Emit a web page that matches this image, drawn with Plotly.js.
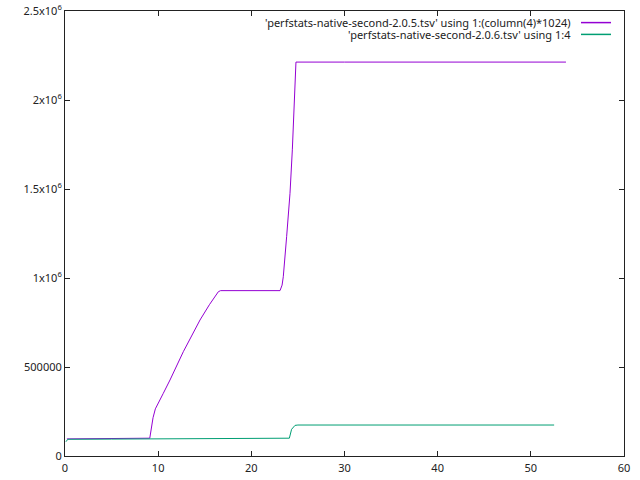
<!DOCTYPE html>
<html>
<head>
<meta charset="utf-8">
<script src="https://cdn.plot.ly/plotly-3.0.1.min.js"></script>
<style>html,body{margin:0;padding:0;background:#fff;}#chart{width:640px;height:480px;}</style>
</head>
<body>
<div id="chart"></div>
<script>
const seriesNames = [
  "'perfstats-native-second-2.0.5.tsv' using 1:(column(4)*1024)",
  "'perfstats-native-second-2.0.6.tsv' using 1:4"
];
const seriesColors = ["#9400d3", "#009e73"];

const x205 = [0.2, 2, 4, 6, 8, 9.1, 9.45, 9.7, 10.55, 11.27, 12.7, 13.6, 14.49, 15.5, 16.46, 16.7, 20, 23.08, 23.3, 23.43, 23.79, 24.15, 24.4, 24.58, 24.79, 30, 40, 50, 53.77];
const y205 = [96000, 97000, 97500, 98000, 99000, 100000, 215000, 265000, 352000, 427000, 586000, 678000, 764000, 850000, 923000, 929000, 929000, 929000, 960000, 1007000, 1232000, 1476000, 1720000, 2000000, 2213000, 2213000, 2213000, 2213000, 2213000];

const x206 = [0.1, 0.3, 5, 10, 15, 20, 24.08, 24.32, 24.69, 25, 30, 40, 52.5];
const y206 = [80000, 94000, 95000, 96000, 97500, 99000, 100000, 150000, 172000, 174000, 174000, 174000, 174000];

const xTickVals = [0, 10, 20, 30, 40, 50, 60];
const yTickVals = [0, 500000, 1000000, 1500000, 2000000, 2500000];
const yTickText = ["0", "500000", "1x10<sup>6</sup>", "1.5x10<sup>6</sup>", "2x10<sup>6</sup>", "2.5x10<sup>6</sup>"];

const fontFam = "Noto Sans, Liberation Sans, sans-serif";

const traces = [
  {x: x205, y: y205, mode: "lines", name: seriesNames[0], line: {color: seriesColors[0], width: 1}},
  {x: x206, y: y206, mode: "lines", name: seriesNames[1], line: {color: seriesColors[1], width: 1}}
];

const axisCommon = {
  showgrid: false, zeroline: false, showline: true, linecolor: "#222", linewidth: 1,
  mirror: "ticks", ticks: "inside", ticklen: 5, tickcolor: "#222", tickwidth: 1,
  tickfont: {family: fontFam, size: 11, color: "#222"}
};

const legendRowY = [11.6, 23.4]; // px below top of plot area
const annotations = seriesNames.map((n, i) => ({
  xref: "paper", yref: "paper", x: (572 - 65) / 559, y: 1 - legendRowY[i] / 445, xanchor: "right", yanchor: "middle",
  text: n, showarrow: false, borderpad: 0, font: {family: fontFam, size: 11, color: "#222"}
}));
const shapes = seriesColors.map((c, i) => ({
  type: "line", xref: "paper", yref: "paper", x0: (581 - 65) / 559, x1: (611 - 65) / 559,
  y0: 1 - legendRowY[i] / 445, y1: 1 - legendRowY[i] / 445, line: {color: c, width: 1.5}
}));

const layout = {
  width: 640, height: 480,
  margin: {l: 65, r: 16, t: 11, b: 24, pad: 0},
  paper_bgcolor: "#fff", plot_bgcolor: "#fff",
  showlegend: false,
  xaxis: Object.assign({}, axisCommon, {range: [0, 60], tickvals: xTickVals, ticklabelstandoff: 2}),
  yaxis: Object.assign({}, axisCommon, {range: [0, 2500000], tickvals: yTickVals, ticktext: yTickText}),
  annotations: annotations,
  shapes: shapes
};

Plotly.newPlot("chart", traces, layout, {staticPlot: true, displayModeBar: false});
</script>
</body>
</html>
